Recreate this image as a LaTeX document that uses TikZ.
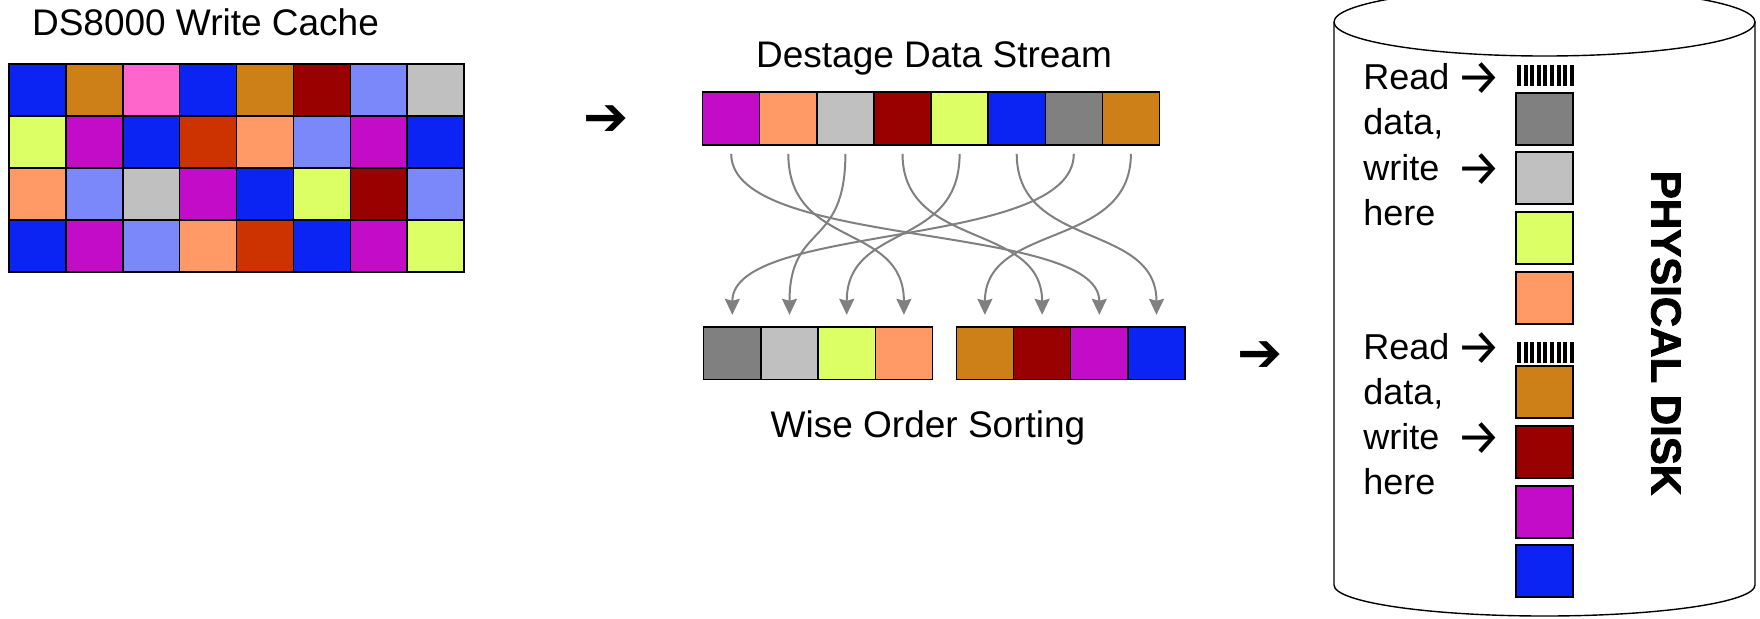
\documentclass[tikz,border=0pt]{standalone}
\usepackage{fontspec}
\setmainfont{Liberation Sans}
\newfontfamily\symfont{DejaVu Sans}
\newfontfamily\arrfont{Fira Sans}
\newfontfamily\heavyfont[BoldFeatures={FakeBold=2}]{Liberation Sans}
\usetikzlibrary{arrows.meta}
\definecolor{cblue}{HTML}{0B24F4}
\definecolor{corange}{HTML}{CD8018}
\definecolor{cpink}{HTML}{FF66CC}
\definecolor{cdred}{HTML}{990000}
\definecolor{cperi}{HTML}{7B88FA}
\definecolor{clgray}{HTML}{C0C0C0}
\definecolor{cyell}{HTML}{DDFF66}
\definecolor{cmag}{HTML}{C20CC8}
\definecolor{crust}{HTML}{CC3300}
\definecolor{csalm}{HTML}{FF9966}
\definecolor{cgray}{HTML}{808080}
\begin{document}
\begin{tikzpicture}[x=0.5pt,y=-0.5pt,
  cachecell/.style={draw=black,line width=0.75pt,minimum width=28.44pt,minimum height=26pt,inner sep=0pt,outer sep=0pt},
  streamcell/.style={draw=black,line width=0.7pt,minimum width=28.55pt,minimum height=26.4pt,inner sep=0pt,outer sep=0pt},
  sortcell/.style={draw=black,line width=0.7pt,minimum width=28.6pt,minimum height=26.2pt,inner sep=0pt,outer sep=0pt},
  diskcell/.style={draw=black,line width=1pt,minimum width=28.5pt,minimum height=26pt,inner sep=0pt,outer sep=0pt},
  title/.style={anchor=base,inner sep=0pt,font=\fontsize{18.5}{22}\selectfont},
  disktext/.style={anchor=base west,inner sep=0pt,font=\fontsize{18}{20}\selectfont},
  smallarrow/.style={inner sep=0pt,font=\arrfont\fontsize{25}{25}\selectfont},
  bigarrow/.style={inner sep=0pt,font=\symfont\fontsize{27}{27}\selectfont},
  flow/.style={draw=cgray,line width=1pt,-{Stealth[length=8pt,width=7.5pt,inset=1pt]},shorten <=4.5pt,shorten >=6pt},
  hatchbar/.style={fill=black}]
\useasboundingbox (0,0) rectangle (1760,618);

% ---------- write cache ----------
\node[title] (tcache) at (205.5,35) {DS8000 Write Cache};
\foreach \row [count=\r from 0] in {
  {cblue,corange,cpink,cblue,corange,cdred,cperi,clgray},
  {cyell,cmag,cblue,crust,csalm,cperi,cmag,cblue},
  {csalm,cperi,clgray,cmag,cblue,cyell,cdred,cperi},
  {cblue,cmag,cperi,csalm,crust,cblue,cmag,cyell}}{
  \foreach \c [count=\k from 0] in \row {
    \node[cachecell,fill=\c] (g\r\k) at (37.44+56.875*\k, 90+52*\r) {};
  }
}

% ---------- arrows ----------
\node[bigarrow] (arr1) at (606,121) {➔};
\node[bigarrow] (arr2) at (1260,357) {➔};

% ---------- destage stream ----------
\node[title] (tstream) at (934,67) {Destage Data Stream};
\foreach \c [count=\k from 0] in {cmag,csalm,clgray,cdred,cyell,cblue,cgray,corange}{
  \node[streamcell,fill=\c] (s\k) at (731.2+57.1*\k,118.4) {};
}

% ---------- sorted ----------
\foreach \c [count=\k from 0] in {cgray,clgray,cyell,csalm}{
  \node[sortcell,fill=\c] (t\k) at (732.3+57.2*\k,353) {};
}
\foreach \c [count=\k from 4] in {corange,cdred,cmag,cblue}{
  \node[sortcell,fill=\c] (t\k) at (984.9+57.2*\k-228.8,353) {};
}
\node[title] (tsort) at (928,437) {Wise Order Sorting};

% ---------- flows ----------
\foreach \a/\b in {0/6,1/3,2/1,3/5,4/2,5/7,6/0,7/4}{
  \draw[flow] (s\a.south) .. controls +(0,105) and +(0,-105) .. (t\b.north);
}

% ---------- physical disk ----------
\draw[line width=0.7pt] (1544.5,22) ellipse [x radius=210.5, y radius=34];
\draw[line width=0.7pt] (1334,22) -- (1334,585)
  arc[start angle=180, end angle=0, x radius=210.5, y radius=31] -- (1755,22);

\foreach \x in {0,...,8}{
  \fill[hatchbar] (1517+6.6*\x,65) rectangle (1520.9+6.6*\x,86);
  \fill[hatchbar] (1517+6.6*\x,342) rectangle (1520.9+6.6*\x,363);
}
\foreach \c/\y [count=\k from 0] in {cgray/118.5,clgray/178.3,cyell/238,csalm/298,corange/392,cdred/452,cmag/511.5,cblue/571}{
  \node[diskcell,fill=\c] (d\k) at (1544.5,\y) {};
}

\node[disktext] (ra1) at (1363,89) {Read};
\node[disktext] (rb1) at (1363,134.5) {data,};
\node[disktext] (rc1) at (1363,180) {write};
\node[disktext] (rd1) at (1363,225.5) {here};
\node[disktext] (ra2) at (1363,359) {Read};
\node[disktext] (rb2) at (1363,404) {data,};
\node[disktext] (rc2) at (1363,449) {write};
\node[disktext] (rd2) at (1363,494.5) {here};
\node[smallarrow] (pa1) at (1479,79) {→};
\node[smallarrow] (pb1) at (1479,170) {→};
\node[smallarrow] (pa2) at (1479,349) {→};
\node[smallarrow] (pb2) at (1479,439) {→};

\node[rotate=-90,inner sep=0pt,font=\heavyfont\bfseries\fontsize{21}{21}\selectfont] (pdisk) at (1666,333) {PHYSICAL DISK};
\end{tikzpicture}
\end{document}
